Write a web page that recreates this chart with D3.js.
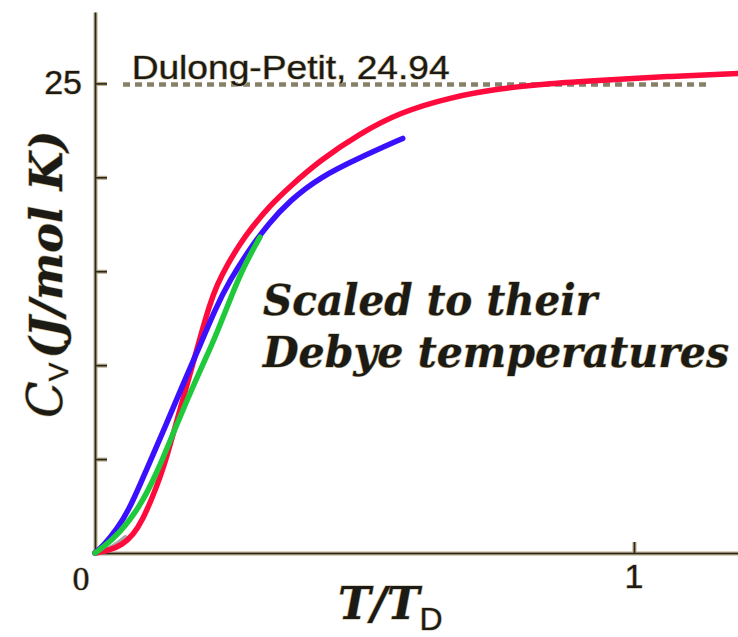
<!DOCTYPE html>
<html>
<head>
<meta charset="utf-8">
<script src="https://cdn.jsdelivr.net/npm/d3@7"></script>
<style>
  body { margin: 0; background: #fff; }
  text { paint-order: stroke; stroke: #c9bb98; stroke-width: 1.2px; fill: #1c1a14; }
</style>
</head>
<body>
<svg id="chart" width="738" height="637"></svg>
<script>
// curves: [T/TD, Cv in J/(mol K)]
const redCurve = [[0,0],[0.028,0.16],[0.050,0.43],[0.071,0.96],[0.089,1.81],[0.106,2.93],
  [0.121,4.04],[0.134,5.21],[0.147,6.54],[0.160,7.87],[0.173,9.20],[0.186,10.53],[0.199,11.86],
  [0.212,13.14],[0.226,14.26],[0.247,15.43],[0.269,16.44],[0.288,17.23],[0.325,18.51],
  [0.362,19.52],[0.417,20.90],[0.492,22.34],[0.566,23.46],[0.659,24.26],[0.751,24.73],
  [0.844,25.00],[0.937,25.16],[1.061,25.37],[1.193,25.53]];
const blueCurve = [[0,0],[0.015,0.37],[0.041,1.28],[0.065,2.39],[0.096,4.47],[0.130,6.70],
  [0.165,9.10],[0.195,11.06],[0.223,12.98],[0.250,14.52],[0.288,16.22],[0.321,17.50],
  [0.362,18.78],[0.417,20.00],[0.492,21.06],[0.571,22.07]];
const greenCurve = [[0,0],[0.009,0.16],[0.046,1.06],[0.083,2.45],[0.115,4.26],[0.145,6.38],
  [0.171,8.14],[0.187,9.20],[0.204,10.27],[0.226,11.70],[0.250,13.46],[0.275,15.21],[0.306,16.81]];
const grayCurve = [[0,0],[0.019,0.1],[0.037,0.37],[0.056,0.8]];

const dulongPetit = 24.94;
const yTicks = [5, 10, 15, 20, 25];
const yTickLabels = [25];
const xTicks = [1];

var svg = d3.select("#chart"),
  margin = { top: 12, right: 0, bottom: 84, left: 95 },
  width = +svg.attr("width") - margin.left - margin.right,
  height = +svg.attr("height") - margin.top - margin.bottom;

var x = d3.scaleLinear().domain([0, 1.193]).range([0, width]),
  y = d3.scaleLinear().domain([0, 28.8]).range([height, 0]);

var g = svg.append("g")
  .attr("transform", "translate(" + margin.left + "," + margin.top + ")");

// axes drawn twice: tan halo underneath, dark core on top
function axes(color, w) {
  var ax = g.append("g");
  ax.append("g")
    .call(d3.axisRight(y).tickValues(yTicks).tickSize(12).tickSizeOuter(0).tickFormat(""))
    .call(s => s.selectAll("path,line").attr("stroke", color).attr("stroke-width", w));
  ax.append("g")
    .attr("transform", "translate(0," + height + ")")
    .call(d3.axisTop(x).tickValues(xTicks).tickSize(11).tickSizeOuter(0).tickFormat(""))
    .call(s => s.selectAll("path,line").attr("stroke", color).attr("stroke-width", w));
}
axes("#b3a685", 4);
axes("#2a261c", 1.6);

// Dulong-Petit limit
g.append("line")
  .attr("x1", x(0.052)).attr("x2", x(1.142))
  .attr("y1", y(dulongPetit)).attr("y2", y(dulongPetit))
  .attr("stroke", "#878069").attr("stroke-width", 4.5)
  .attr("stroke-dasharray", "7,5");

g.append("text")
  .attr("x", x(0.068)).attr("y", y(dulongPetit) - 6)
  .attr("font-family", "Liberation Sans, Arial, sans-serif")
  .attr("font-size", 34)
  .attr("textLength", 318).attr("lengthAdjust", "spacingAndGlyphs")
  .text("Dulong-Petit, " + dulongPetit);

var line = d3.line()
  .x(d => x(d[0]))
  .y(d => y(d[1]))
  .curve(d3.curveBasis);

[[grayCurve, "#a8a8a8"], [redCurve, "#ff0a3c"], [blueCurve, "#3a10ff"], [greenCurve, "#1fc93c"]]
  .forEach(function (c) {
    g.append("path")
      .datum(c[0])
      .attr("fill", "none")
      .attr("stroke", c[1])
      .attr("stroke-width", 5.5)
      .attr("stroke-linecap", "round")
      .attr("d", line);
  });

// tick labels
g.selectAll(".ylab")
  .data(yTickLabels)
  .enter()
  .append("text")
  .attr("x", -13).attr("y", d => y(d) + 11)
  .attr("text-anchor", "end")
  .attr("font-family", "Liberation Sans, Arial, sans-serif")
  .attr("font-size", 34)
  .text(d => d);

g.selectAll(".xlab")
  .data(xTicks)
  .enter()
  .append("text")
  .attr("x", d => x(d)).attr("y", height + 35)
  .attr("text-anchor", "middle")
  .attr("font-family", "Liberation Sans, Arial, sans-serif")
  .attr("font-size", 34)
  .text(d => d);

g.append("text")
  .attr("x", -14).attr("y", height + 37)
  .attr("text-anchor", "middle")
  .attr("font-family", "Liberation Serif, Times, serif")
  .attr("font-size", 34)
  .text("0");

// axis titles
var xt = g.append("text")
  .attr("x", 243).attr("y", height + 66);
xt.append("tspan")
  .attr("font-family", "DejaVu Serif, serif")
  .attr("font-weight", "bold").attr("font-style", "italic")
  .attr("font-size", 44)
  .text("T/T");
xt.append("tspan")
  .attr("font-family", "Liberation Sans, Arial, sans-serif")
  .attr("font-size", 32).attr("dy", 11)
  .text("D");

var yt = svg.append("text")
  .attr("transform", "translate(62,418) rotate(-90)");
yt.append("tspan")
  .attr("font-family", "DejaVu Serif, serif")
  .attr("font-style", "italic")
  .attr("font-size", 48)
  .text("C");
yt.append("tspan")
  .attr("font-family", "Liberation Sans, Arial, sans-serif")
  .attr("font-size", 28).attr("dy", 6)
  .text("V");
yt.append("tspan")
  .attr("font-family", "DejaVu Serif, serif")
  .attr("font-weight", "bold").attr("font-style", "italic")
  .attr("font-size", 44).attr("dy", -6).attr("dx", 4)
  .attr("textLength", 228).attr("lengthAdjust", "spacingAndGlyphs")
  .text("(J/mol K)");

// annotation
var note = svg.append("g")
  .attr("font-family", "DejaVu Serif, serif")
  .attr("font-weight", "bold").attr("font-style", "italic")
  .attr("font-size", 42);
note.append("text")
  .attr("x", 263).attr("y", 315)
  .attr("textLength", 334).attr("lengthAdjust", "spacingAndGlyphs")
  .text("Scaled to their");
note.append("text")
  .attr("x", 263).attr("y", 367)
  .attr("textLength", 466).attr("lengthAdjust", "spacingAndGlyphs")
  .text("Debye temperatures");
</script>
</body>
</html>
